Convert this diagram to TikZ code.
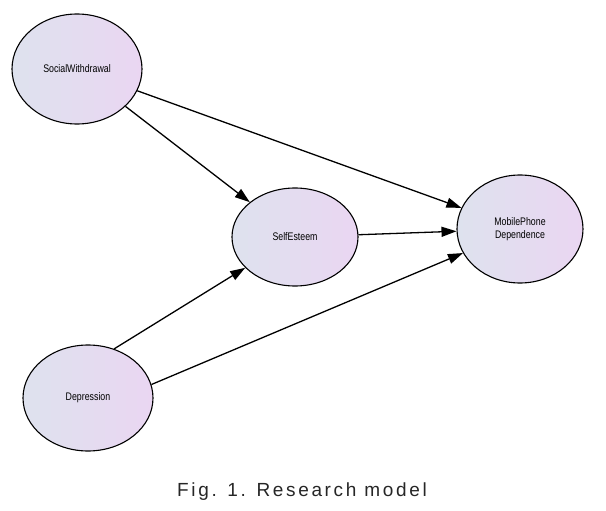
\documentclass[tikz,border=0pt]{standalone}
\usepackage{fontspec}
\setmainfont{Liberation Sans}
\newfontfamily\narrowfont[FakeStretch=0.8]{Liberation Sans}
\usetikzlibrary{arrows.meta,shapes.geometric}
\definecolor{shadeL}{RGB}{222,226,238}
\definecolor{shadeR}{RGB}{234,214,242}
\begin{document}
\begin{tikzpicture}[x=1pt,y=-1pt,
  latent/.style={ellipse,draw=black,line width=1.1pt,left color=shadeL,right color=shadeR,
    font=\narrowfont\fontsize{11}{12.5}\selectfont,align=center,inner sep=0pt},
  path/.style={-{Triangle[length=15pt,width=10pt]},line width=1.3pt}]
\useasboundingbox (0,0) rectangle (606,511);
\node[latent,minimum width=130pt,minimum height=110pt] (sw) at (77,69) {SocialWithdrawal};
\node[latent,minimum width=126pt,minimum height=98pt] (se) at (295,237) {SelfEsteem};
\node[latent,minimum width=126pt,minimum height=108pt] (mp) at (520,229) {MobilePhone\\Dependence};
\node[latent,minimum width=130pt,minimum height=106pt] (dep) at (88,398) {Depression};
\draw[path] (sw) -- (se);
\draw[path] (sw) -- (mp);
\draw[path] (se) -- (mp);
\draw[path] (dep.62) -- (se);
\draw[path] (dep.12) -- (mp);
\node[font=\addfontfeature{LetterSpace=14}\fontsize{19}{22}\selectfont,text=black!85] (cap) at (302,492) {Fig. 1. Research model};
\end{tikzpicture}
\end{document}
